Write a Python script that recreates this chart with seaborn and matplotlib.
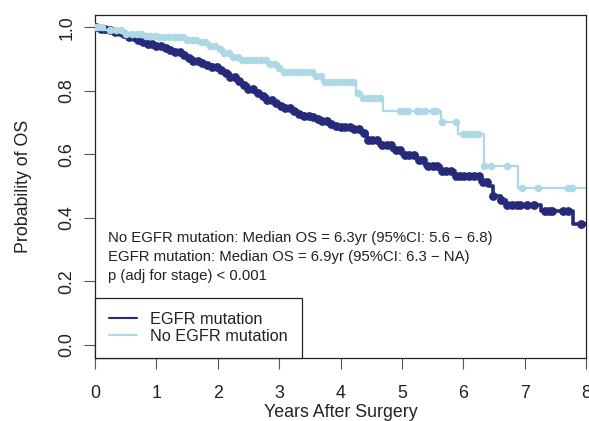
import numpy as np
import pandas as pd
import matplotlib
matplotlib.use("Agg")
import matplotlib.pyplot as plt
import seaborn as sns
from matplotlib.lines import Line2D

# ---------------- data ----------------
group_labels = ["EGFR mutation", "No EGFR mutation"]

# EGFR mutation (dark curve): step times (years) and survival after each step
egfr_time = [0.0, 0.1, 0.2, 0.3, 0.45, 0.55, 0.65, 0.75, 0.85, 1.0, 1.1, 1.2,
             1.3, 1.4, 1.5, 1.6, 1.7, 1.8, 1.9, 2.0, 2.1, 2.2, 2.3, 2.4, 2.5,
             2.6, 2.7, 2.8, 2.9, 3.0, 3.1, 3.2, 3.3, 3.4, 3.5, 3.6, 3.7, 3.8,
             3.9, 4.0, 4.2, 4.33, 4.43, 4.63, 4.84, 5.0, 5.24, 5.37, 5.63,
             5.87, 6.27, 6.4, 6.48, 6.61, 6.7, 7.27, 7.79, 8.0]
egfr_surv = [1.0, 0.995, 0.99, 0.985, 0.98, 0.97, 0.96, 0.952, 0.947, 0.94,
             0.934, 0.928, 0.921, 0.912, 0.902, 0.895, 0.888, 0.882, 0.874,
             0.864, 0.855, 0.843, 0.831, 0.818, 0.805, 0.792, 0.782, 0.771,
             0.762, 0.753, 0.745, 0.737, 0.728, 0.721, 0.716, 0.71, 0.704,
             0.695, 0.69, 0.685, 0.68, 0.668, 0.646, 0.63, 0.614, 0.598,
             0.583, 0.562, 0.546, 0.53, 0.514, 0.499, 0.467, 0.457, 0.441,
             0.42, 0.381, 0.381]
egfr_censor = [0.02, 0.1, 0.17, 0.25, 0.33, 0.4, 0.48, 0.56, 0.63, 0.7, 0.78,
               0.86, 0.93, 1.0, 1.08, 1.15, 1.23, 1.3, 1.38, 1.45, 1.53, 1.6,
               1.68, 1.75, 1.83, 1.9, 1.98, 2.05, 2.13, 2.2, 2.28, 2.35, 2.43,
               2.5, 2.58, 2.65, 2.73, 2.8, 2.88, 2.95, 3.03, 3.1, 3.18, 3.25,
               3.33, 3.4, 3.48, 3.55, 3.63, 3.7, 3.78, 3.85, 3.93, 4.0, 4.08,
               4.15, 4.22, 4.3, 4.38, 4.45, 4.52, 4.6, 4.68, 4.75, 4.82, 4.9,
               4.97, 5.05, 5.12, 5.2, 5.28, 5.35, 5.42, 5.5, 5.58, 5.65, 5.72,
               5.8, 5.88, 5.95, 6.02, 6.1, 6.17, 6.25, 6.32, 6.38, 6.48, 6.61,
               6.71, 6.79, 6.87, 6.93, 7.04, 7.15, 7.34, 7.40, 7.45, 7.62,
               7.70, 7.92]

# No EGFR mutation (light curve)
noegfr_time = [0.0, 0.15, 0.45, 0.8, 1.0, 1.5, 1.7, 1.85, 2.0, 2.1, 2.2, 2.35,
               2.8, 3.0, 3.05, 3.55, 3.7, 4.25, 4.35, 4.69, 5.63, 5.92, 6.33,
               6.9, 8.0]
noegfr_surv = [1.0, 0.99, 0.98, 0.973, 0.968, 0.96, 0.952, 0.942, 0.93, 0.918,
               0.905, 0.898, 0.885, 0.872, 0.86, 0.845, 0.829, 0.793, 0.777,
               0.735, 0.703, 0.665, 0.562, 0.494, 0.494]
noegfr_censor = [0.0, 0.05, 0.12, 0.25, 0.35, 0.42, 0.5, 0.6, 0.68, 0.75, 0.83,
                 0.9, 0.98, 1.05, 1.13, 1.2, 1.28, 1.35, 1.43, 1.5, 1.58, 1.65,
                 1.73, 1.8, 1.88, 1.95, 2.03, 2.1, 2.18, 2.25, 2.33, 2.4, 2.48,
                 2.55, 2.63, 2.7, 2.78, 2.85, 2.93, 3.0, 3.08, 3.15, 3.23, 3.3,
                 3.38, 3.45, 3.53, 3.6, 3.68, 3.75, 3.83, 3.9, 3.98, 4.05, 4.12,
                 4.2, 4.29, 4.37, 4.45, 4.5, 4.56, 4.64, 4.97, 5.03, 5.10, 5.24,
                 5.30, 5.37, 5.51, 5.56, 5.66, 5.89, 6.0, 6.06, 6.11, 6.18,
                 6.24, 6.34, 6.46, 6.71, 6.95, 7.22, 7.70, 7.77]

x_ticks = [0, 1, 2, 3, 4, 5, 6, 7, 8]
y_ticks = [0.0, 0.2, 0.4, 0.6, 0.8, 1.0]
y_tick_labels = ["0.0", "0.2", "0.4", "0.6", "0.8", "1.0"]

annotation_lines = [
    "No EGFR mutation: Median OS = 6.3yr (95%CI: 5.6 \u2212 6.8)",
    "EGFR mutation: Median OS = 6.9yr (95%CI: 6.3 \u2212 NA)",
    "p (adj for stage) < 0.001",
]

# ---------------- styling ----------------
DARK = "#262a7a"
LIGHT = "#add8e6"
FS_AXIS = 12.8

sns.set_style("ticks")
plt.rcParams["font.family"] = ["Liberation Sans", "DejaVu Sans"]

fig = plt.figure(figsize=(5.89, 4.21), dpi=100)
ax = fig.add_axes([95 / 589, (421 - 357.5) / 421, 491 / 589, 343 / 421])


def step_value(times, surv, t):
    times = np.asarray(times)
    idx = np.searchsorted(times, t, side="right") - 1
    return np.asarray(surv)[np.clip(idx, 0, len(surv) - 1)]


curves = [
    (egfr_time, egfr_surv, egfr_censor, DARK, 2.6, 40),
    (noegfr_time, noegfr_surv, noegfr_censor, LIGHT, 1.6, 30),
]
for i, (t, s, c, col, lw, ms) in enumerate(curves):
    df = pd.DataFrame({"time": t, "surv": s})
    sns.lineplot(data=df, x="time", y="surv", estimator=None, sort=False,
                 drawstyle="steps-post", color=col, linewidth=lw, ax=ax,
                 legend=False, zorder=2 + 2 * i)
    cdf = pd.DataFrame({"time": c, "surv": step_value(t, s, np.asarray(c))})
    sns.scatterplot(data=cdf, x="time", y="surv", color=col, s=ms,
                    linewidth=0, ax=ax, legend=False, zorder=3 + 2 * i)

ax.set_xlim(0, 8)
ax.set_ylim(-0.04, 1.04)
ax.set_xticks(x_ticks)
ax.set_xticklabels([str(v) for v in x_ticks])
ax.set_yticks(y_ticks)
ax.set_yticklabels(y_tick_labels)

for sp in ax.spines.values():
    sp.set_visible(True)
    sp.set_color("#222222")
    sp.set_linewidth(0.9)

ax.tick_params(axis="both", direction="out", length=7.9, width=0.8,
               color="#555555", labelsize=FS_AXIS, labelcolor="#222222")
ax.tick_params(axis="x", pad=12.0)
ax.tick_params(axis="y", pad=6.0)
for lbl in ax.get_yticklabels():
    lbl.set_rotation(90)
    lbl.set_verticalalignment("center")

ax.set_xlabel("Years After Surgery", fontsize=FS_AXIS, color="#222222")
ax.set_ylabel("Probability of OS", fontsize=FS_AXIS, color="#222222")
ax.xaxis.set_label_coords(0.5, (357.5 - 404) / 343)
ax.yaxis.set_label_coords((32 - 95) / 491, 0.5)

for j, line in enumerate(annotation_lines):
    ax.text((108 - 95) / 491, (357.5 - (238 + 19 * j)) / 343, line,
            transform=ax.transAxes, fontsize=10.7, color="#222222",
            ha="left", va="center")

handles = [Line2D([], [], color=DARK, lw=1.5),
           Line2D([], [], color=LIGHT, lw=1.5)]
leg = ax.legend(handles, group_labels, loc="lower left",
                bbox_to_anchor=(0, 0), borderaxespad=0, fontsize=11.7,
                frameon=True, fancybox=False, framealpha=1,
                edgecolor="#222222", handlelength=1.75, handletextpad=0.8,
                labelspacing=0.1, borderpad=0.85)
leg.get_frame().set_linewidth(0.9)
for txt in leg.get_texts():
    txt.set_color("#222222")

fig.savefig("out.png", dpi=100)
